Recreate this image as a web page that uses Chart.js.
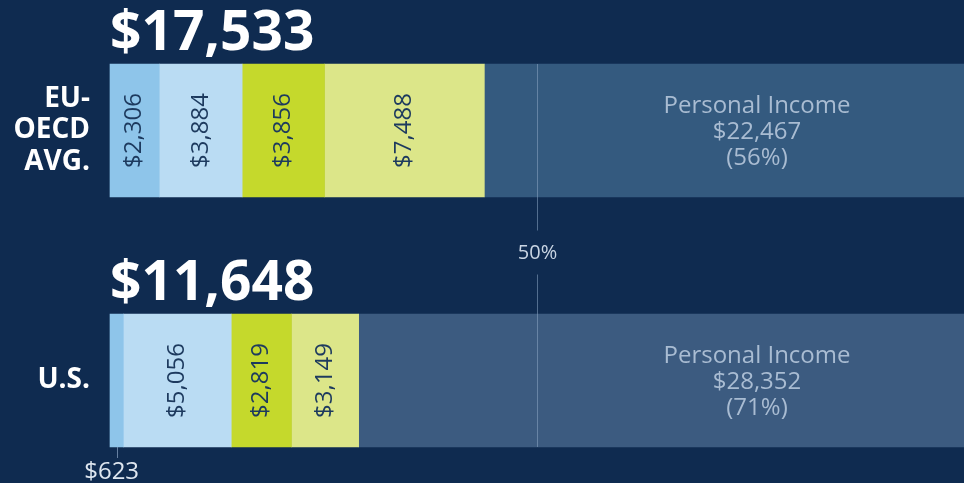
<!DOCTYPE html>
<html>
<head>
<meta charset="utf-8">
<script src="https://cdn.jsdelivr.net/npm/chart.js@4.4.1/dist/chart.umd.min.js"></script>
<style>
  html, body { margin: 0; padding: 0; background: #0f2b50; }
  #wrap { width: 964px; height: 483px; position: relative; }
</style>
</head>
<body>
<div id="wrap"><canvas id="c"></canvas></div>
<script>
  // rows, top to bottom
  const rows = [['EU-', 'OECD', 'AVG.'], 'U.S.'];
  const totals = ['$17,533', '$11,648'];

  // stacked segments (dollars)
  const seg1 = [2306, 623];
  const seg2 = [3884, 5056];
  const seg3 = [3856, 2819];
  const seg4 = [7488, 3149];
  const personal = [22467, 28352];
  const personalPct = ['56%', '71%'];

  const SCALE_MAX = 40000;
  const HALF_MARK = 20000;

  const COLORS = ['#8ec5ea', '#badcf3', '#c5d92c', '#dce689'];
  const PERSONAL_COLORS = ['#345a7f', '#3c5b80'];
  const FONT = '"Open Sans", sans-serif';

  const fmt = v => '$' + v.toLocaleString('en-US');

  const segLabels = {
    id: 'segLabels',
    afterDatasetsDraw(chart) {
      const ctx = chart.ctx;
      const xs = chart.scales.x;
      ctx.save();

      // 50% reference line, broken for its label
      const x50 = Math.round(xs.getPixelForValue(HALF_MARK)) + 0.5;
      const top = chart.getDatasetMeta(0).data[0];
      const bot = chart.getDatasetMeta(0).data[1];
      const y0 = top.y - top.height / 2;
      const y1 = bot.y + bot.height / 2;
      const mid = (top.y + bot.y) / 2;
      ctx.strokeStyle = 'rgba(140,165,195,0.55)';
      ctx.lineWidth = 1;
      ctx.beginPath();
      ctx.moveTo(x50, y0); ctx.lineTo(x50, mid - 25);
      ctx.moveTo(x50, mid + 19); ctx.lineTo(x50, y1);
      ctx.stroke();
      ctx.fillStyle = '#c9d5e3';
      ctx.font = '20px ' + FONT;
      ctx.textAlign = 'center';
      ctx.textBaseline = 'middle';
      ctx.fillText('50%', x50, mid - 2);

      // rotated value labels in the small segments
      for (let d = 0; d < 4; d++) {
        const meta = chart.getDatasetMeta(d);
        meta.data.forEach((bar, i) => {
          const v = chart.data.datasets[d].data[i];
          const w = Math.abs(bar.x - bar.base);
          const cx = (bar.x + bar.base) / 2;
          if (w < 30) {
            // too narrow: tick + label under the bar
            const yb = bar.y + bar.height / 2;
            ctx.strokeStyle = 'rgba(140,165,195,0.7)';
            ctx.beginPath();
            ctx.moveTo(Math.round(cx) + 0.5, yb);
            ctx.lineTo(Math.round(cx) + 0.5, yb + 11);
            ctx.stroke();
            ctx.fillStyle = '#dfe7f0';
            ctx.font = '24px ' + FONT;
            ctx.textAlign = 'center';
            ctx.textBaseline = 'middle';
            ctx.fillText(fmt(v), cx - 5, yb + 25);
            return;
          }
          ctx.save();
          ctx.translate(cx, bar.y);
          ctx.rotate(-Math.PI / 2);
          ctx.fillStyle = '#1d3a5e';
          ctx.font = '24px ' + FONT;
          ctx.textAlign = 'center';
          ctx.textBaseline = 'middle';
          ctx.fillText(fmt(v), 0, 0);
          ctx.restore();
        });
      }

      // personal income block text
      const pMeta = chart.getDatasetMeta(4);
      pMeta.data.forEach((bar, i) => {
        ctx.fillStyle = '#a9bcd2';
        ctx.font = '24px ' + FONT;
        ctx.textAlign = 'center';
        ctx.textBaseline = 'middle';
        const tx = 757;
        ctx.fillText('Personal Income', tx, bar.y - 24);
        ctx.fillText(fmt(personal[i]), tx, bar.y + 2);
        ctx.fillText('(' + personalPct[i] + ')', tx, bar.y + 28);
      });

      // big totals above each bar
      const m0 = chart.getDatasetMeta(0);
      m0.data.forEach((bar, i) => {
        ctx.fillStyle = '#ffffff';
        ctx.font = 'bold 55px ' + FONT;
        ctx.textAlign = 'left';
        ctx.textBaseline = 'alphabetic';
        ctx.fillText(totals[i], bar.base, bar.y - bar.height / 2 - 14);
      });
      ctx.restore();
    }
  };

  const ds = (label, data, color) => ({
    label, data, backgroundColor: color, borderWidth: 0,
    barThickness: 133, clip: false
  });

  new Chart(document.getElementById('c'), {
    type: 'bar',
    data: {
      labels: rows,
      datasets: [
        ds('seg1', seg1, COLORS[0]),
        ds('seg2', seg2, COLORS[1]),
        ds('seg3', seg3, COLORS[2]),
        ds('seg4', seg4, COLORS[3]),
        ds('Personal Income', personal, PERSONAL_COLORS)
      ]
    },
    options: {
      indexAxis: 'y',
      responsive: true,
      maintainAspectRatio: false,
      animation: false,
      layout: { padding: { top: 130.5, bottom: 102.5, left: 0, right: 0 } },
      plugins: { legend: { display: false }, tooltip: { enabled: false } },
      scales: {
        x: { stacked: true, min: 0, max: SCALE_MAX, display: false },
        y: {
          stacked: true,
          offset: false,
          grid: { display: false, drawTicks: false },
          border: { display: false },
          ticks: {
            color: '#ffffff',
            padding: 20,
            font: { family: FONT, weight: 'bold', size: 28, lineHeight: 1.14 }
          },
          afterFit(scale) { scale.width = 110; }
        }
      }
    },
    plugins: [segLabels]
  });
</script>
</body>
</html>
